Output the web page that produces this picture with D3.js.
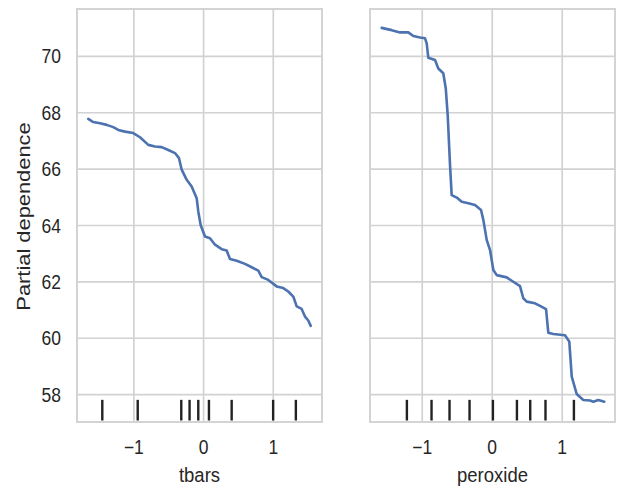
<!DOCTYPE html>
<html>
<head>
<meta charset="utf-8">
<script src="https://cdn.jsdelivr.net/npm/d3@7"></script>
<style>
  html, body { margin: 0; padding: 0; background: #fff; }
  text { font-family: "Liberation Sans", Arial, sans-serif; fill: #262626; }
</style>
</head>
<body>
<div id="chart"></div>
<script>
// partial dependence curves
var tbarsX = [-1.654, -1.583, -1.486, -1.390, -1.296, -1.224, -1.128, -1.009, -0.912, -0.793,
              -0.697, -0.601, -0.506, -0.410, -0.353, -0.314, -0.242, -0.171, -0.099, -0.076,
              -0.042, 0.020, 0.092, 0.164, 0.260, 0.331, 0.379, 0.475, 0.594, 0.690,
              0.785, 0.834, 0.928, 1.049, 1.143, 1.215, 1.287, 1.336, 1.407, 1.455,
              1.502, 1.537];
var tbarsPD = [67.78, 67.67, 67.63, 67.57, 67.49, 67.39, 67.33, 67.28, 67.13, 66.86,
               66.80, 66.78, 66.68, 66.57, 66.39, 65.98, 65.62, 65.38, 64.97, 64.50,
               64.02, 63.61, 63.55, 63.32, 63.16, 63.11, 62.81, 62.75, 62.64, 62.52,
               62.40, 62.17, 62.07, 61.84, 61.78, 61.66, 61.48, 61.13, 61.04, 60.77,
               60.63, 60.44];

var peroxideX = [-1.579, -1.436, -1.317, -1.199, -1.127, -1.031, -0.960, -0.936, -0.913, -0.817,
                 -0.770, -0.699, -0.664, -0.636, -0.603, -0.579, -0.507, -0.436, -0.341, -0.246,
                 -0.160, -0.127, -0.079, -0.031, 0.016, 0.064, 0.207, 0.279, 0.397, 0.444,
                 0.493, 0.611, 0.683, 0.769, 0.801, 0.873, 1.040, 1.101, 1.136, 1.207,
                 1.301, 1.397, 1.444, 1.516, 1.601];
var peroxidePD = [71.01, 70.93, 70.85, 70.85, 70.72, 70.67, 70.64, 70.46, 69.95, 69.87,
                  69.57, 69.40, 68.87, 67.92, 66.15, 65.08, 64.99, 64.84, 64.79, 64.73,
                  64.55, 64.20, 63.49, 63.13, 62.42, 62.24, 62.16, 62.04, 61.85, 61.42,
                  61.30, 61.24, 61.15, 61.03, 60.20, 60.15, 60.11, 59.88, 58.64, 58.02,
                  57.81, 57.79, 57.75, 57.81, 57.75];

// deciles shown as rug marks
var tbarsDeciles = [-1.453, -0.945, -0.320, -0.201, -0.076, 0.077, 0.403, 0.998, 1.324];
var peroxideDeciles = [-1.219, -0.867, -0.610, -0.324, 0.010, 0.353, 0.543, 0.761, 1.167];

var xTicks = [-1, 0, 1];
var yTicks = [58, 60, 62, 64, 66, 68, 70];

var width = 619, height = 488;
var svg = d3.select("#chart").append("svg")
    .attr("width", width)
    .attr("height", height);

var plotTop = 9, plotBottom = 422;
var yScale = d3.scaleLinear().domain([57.03, 71.68]).range([plotBottom, plotTop]);

var panels = [
  {name: "tbars", x: tbarsX, y: tbarsPD, deciles: tbarsDeciles,
   left: 77, right: 322, domain: [-1.816, 1.699], yLabels: true},
  {name: "peroxide", x: peroxideX, y: peroxidePD, deciles: peroxideDeciles,
   left: 370, right: 615, domain: [-1.746, 1.754], yLabels: false}
];

var gridColor = "#d2d2d2";

panels.forEach(function(p) {
  var xScale = d3.scaleLinear().domain(p.domain).range([p.left, p.right]);
  var g = svg.append("g");

  // grid
  g.selectAll("line.vgrid")
   .data(xTicks).enter().append("line")
   .attr("class", "vgrid")
   .attr("x1", d => xScale(d)).attr("x2", d => xScale(d))
   .attr("y1", plotTop).attr("y2", plotBottom)
   .attr("stroke", gridColor).attr("stroke-width", 1.7);
  g.selectAll("line.hgrid")
   .data(yTicks).enter().append("line")
   .attr("class", "hgrid")
   .attr("x1", p.left).attr("x2", p.right)
   .attr("y1", d => yScale(d)).attr("y2", d => yScale(d))
   .attr("stroke", gridColor).attr("stroke-width", 1.7);

  // frame
  g.append("rect")
   .attr("x", p.left).attr("y", plotTop)
   .attr("width", p.right - p.left).attr("height", plotBottom - plotTop)
   .attr("fill", "none")
   .attr("stroke", gridColor).attr("stroke-width", 1.9);

  // deciles
  var rugH = 0.05 * (plotBottom - plotTop);
  g.selectAll("line.rug")
   .data(p.deciles).enter().append("line")
   .attr("class", "rug")
   .attr("x1", d => xScale(d)).attr("x2", d => xScale(d))
   .attr("y1", plotBottom - 1.5).attr("y2", plotBottom - 1.5 - rugH)
   .attr("stroke", "#222222").attr("stroke-width", 2.4);

  // curve
  var pts = p.x.map((v, i) => [v, p.y[i]]);
  var line = d3.line()
    .x(d => xScale(d[0]))
    .y(d => yScale(d[1]));
  g.append("path")
   .datum(pts)
   .attr("d", line)
   .attr("fill", "none")
   .attr("stroke", "#4c72b0")
   .attr("stroke-width", 2.6)
   .attr("stroke-linejoin", "round")
   .attr("stroke-linecap", "round");

  // x tick labels
  g.selectAll("text.xt")
   .data(xTicks).enter().append("text")
   .attr("class", "xt")
   .attr("transform", d => "translate(" + xScale(d) + ",454) scale(1,1.12)")
   .attr("text-anchor", "middle")
   .style("font-size", "17.5px")
   .text(d => d3.format("")(d).replace("-", "\u2212"));

  // x label
  g.append("text")
   .attr("transform", "translate(" + ((p.left + p.right) / 2) + ",482) scale(1,1.12)")
   .attr("text-anchor", "middle")
   .style("font-size", "18.5px")
   .text(p.name);

  if (p.yLabels) {
    g.selectAll("text.yt")
     .data(yTicks).enter().append("text")
     .attr("class", "yt")
     .attr("transform", d => "translate(61," + (yScale(d) + 7) + ") scale(1,1.12)")
     .attr("text-anchor", "end")
     .style("font-size", "17.5px")
     .text(d => d);

    g.append("text")
     .attr("transform", "translate(30," + ((plotTop + plotBottom) / 2 + 1) + ") scale(1,1.15) rotate(-90)")
     .attr("text-anchor", "middle")
     .style("font-size", "19px")
     .text("Partial dependence");
  }
});
</script>
</body>
</html>
